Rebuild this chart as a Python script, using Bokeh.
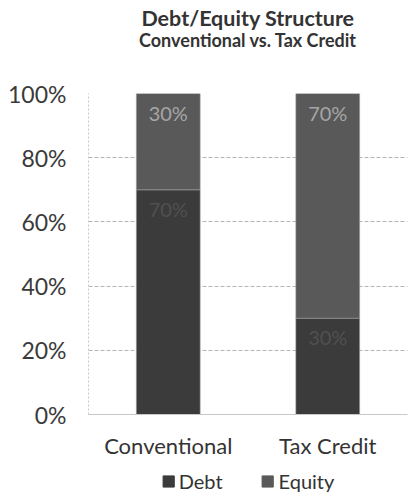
from bokeh.plotting import figure
from bokeh.layouts import column
from bokeh.models import (ColumnDataSource, Label, Legend, LegendItem,
                          NumeralTickFormatter, FixedTicker, LabelSet)
from bokeh.core.properties import value
from bokeh.embed import file_html
from bokeh.resources import INLINE

# Financing structure, share of total
categories = ["Conventional", "Tax Credit"]
debt = [0.70, 0.30]
equity = [0.30, 0.70]
series = ["Debt", "Equity"]
colors = ["#3b3b3b", "#595959"]
y_ticks = [0, 0.2, 0.4, 0.6, 0.8, 1.0]
title = "Debt/Equity Structure"
subtitle = "Conventional vs. Tax Credit"

FONT = "Lato"
W = 409


def bare(fig):
    fig.xgrid.grid_line_color = None
    fig.ygrid.grid_line_color = None
    fig.outline_line_color = None
    fig.background_fill_alpha = 0
    fig.border_fill_alpha = 0
    return fig


# ---- heading block ----
head = bare(figure(width=W, height=70, x_range=(0, 1), y_range=(0, 1),
                   x_axis_type=None, y_axis_type=None,
                   output_backend="svg", toolbar_location=None,
                   min_border=0))
head.add_layout(Label(text=title, x=0.5, y=0.743, text_align="center",
                      text_baseline="middle", text_font=FONT,
                      text_font_size="21.5px", text_font_style="bold",
                      text_color="#333333"))
head.add_layout(Label(text=subtitle, x=0.5, y=0.43, text_align="center",
                      text_baseline="middle", text_font=FONT,
                      text_font_size="18px", text_font_style="bold",
                      text_color="#333333"))

# ---- stacked bars ----
src = ColumnDataSource(dict(cat=categories, Debt=debt, Equity=equity))

p = figure(x_range=categories, y_range=(0, 1),
           width=W, height=396,
           output_backend="svg", toolbar_location=None,
           min_border_left=88, min_border_right=2, min_border_top=23,
           min_border_bottom=52)
p.title = None

rs = p.vbar_stack(series, x="cat", width=0.4, source=src, color=colors,
                  line_color="#9a9a9a", line_width=0.6)

# value labels, placed just inside the top of each segment
lbl_src = ColumnDataSource(dict(
    x=categories + categories,
    y=[d - 0.022 for d in debt] + [d + e - 0.022 for d, e in zip(debt, equity)],
    t=[f"{int(round(v * 100))}%" for v in debt] +
      [f"{int(round(v * 100))}%" for v in equity],
    c=["#505050", "#505050", "#a6a6a6", "#a6a6a6"],
))
p.add_layout(LabelSet(x="x", y="y", text="t", source=lbl_src,
                      text_align="center", text_baseline="top",
                      text_font=value(FONT), text_font_size=value("20px"),
                      text_color="c"))

p.yaxis.ticker = FixedTicker(ticks=y_ticks)
p.yaxis.formatter = NumeralTickFormatter(format="0%")
p.yaxis.major_label_text_font = FONT
p.yaxis.major_label_text_font_size = "23px"
p.yaxis.major_label_text_color = "#3a3a3a"
p.yaxis.major_tick_line_color = None
p.yaxis.major_tick_out = 0
p.yaxis.minor_tick_line_color = None
p.yaxis.axis_line_color = "#c8c8c8"
p.yaxis.axis_line_dash = "2 2"
p.yaxis.major_label_standoff = 22

p.xaxis.major_label_text_font = FONT
p.xaxis.major_label_text_font_size = "22px"
p.xaxis.major_label_text_color = "#333333"
p.xaxis.major_tick_line_color = None
p.xaxis.major_tick_out = 0
p.xaxis.axis_line_color = "#c8c8c8"
p.xaxis.major_label_standoff = 17

p.xgrid.grid_line_color = None
p.ygrid.grid_line_color = "#b4b4b4"
p.ygrid.grid_line_dash = "4 2"
p.ygrid.ticker = FixedTicker(ticks=y_ticks)
p.outline_line_color = None
p.x_range.range_padding = 0

# ---- legend strip, centred under the plotting area ----
# the same stacked series feed the swatches; the strip's y-range sits above
# the data so only the legend itself is visible here
leg = bare(figure(width=W, height=30, x_range=categories, y_range=(2, 3),
                  x_axis_type=None, y_axis_type=None,
                  output_backend="svg", toolbar_location=None,
                  min_border_left=88, min_border_right=2,
                  min_border_top=0, min_border_bottom=0))
swatches = leg.vbar_stack(series, x="cat", width=0.4, source=src,
                          color=colors)
legend = Legend(items=[LegendItem(label=s, renderers=[r])
                       for s, r in zip(series, swatches)],
                orientation="horizontal", location="center",
                label_text_font=FONT, label_text_font_size="20px",
                label_text_color="#333333", glyph_width=14, glyph_height=14,
                spacing=38, padding=0, margin=0, border_line_color=None,
                background_fill_alpha=0, label_standoff=4)
leg.add_layout(legend)

layout = column(head, p, leg, spacing=0)
open("out.html", "w").write(file_html(layout, INLINE))
